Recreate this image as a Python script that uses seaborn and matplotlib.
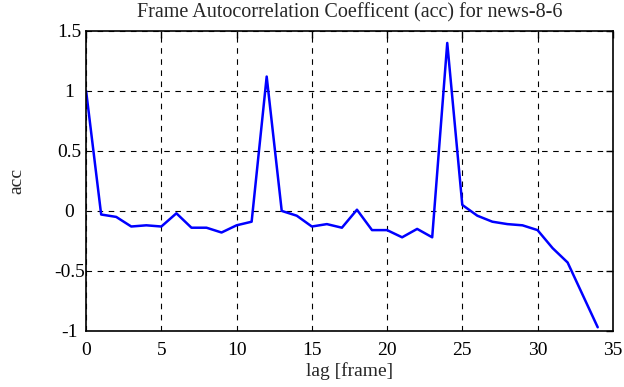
import matplotlib
matplotlib.use("Agg")
import matplotlib.pyplot as plt
import seaborn as sns
import pandas as pd

lags = list(range(35))
acc = [1.0, -0.03, -0.05, -0.13, -0.12, -0.13, -0.02, -0.14, -0.14, -0.18,
       -0.12, -0.09, 1.12, 0.0, -0.04, -0.13, -0.11, -0.14, 0.01, -0.16,
       -0.16, -0.22, -0.15, -0.22, 1.4, 0.05, -0.04, -0.09, -0.11, -0.12,
       -0.16, -0.31, -0.43, -0.70, -0.97]
xticks = [0, 5, 10, 15, 20, 25, 30, 35]
yticks = [-1, -0.5, 0, 0.5, 1, 1.5]
ytick_labels = ["-1", "-0.5", "0", "0.5", "1", "1.5"]

df = pd.DataFrame({"lag": lags, "acc": acc})

sns.set_style("white")
plt.rcParams["font.family"] = ["Liberation Serif", "DejaVu Serif"]

fig = plt.figure(figsize=(6.24, 3.87), dpi=100)
ax = fig.add_axes([0.138, 0.145, 0.844, 0.775])
sns.lineplot(data=df, x="lag", y="acc", ax=ax, color="#0000ff", linewidth=1.8)
ax.set_xlim(0, 35)
ax.set_ylim(-1, 1.5)
ax.set_xticks(xticks)
ax.set_yticks(yticks)
ax.set_yticklabels(ytick_labels)
ax.grid(True, color="black", linestyle=(0, (5, 5)), linewidth=0.8)
ax.tick_params(direction="in", top=True, right=True, length=5, width=1,
               labelsize=14, colors="black")
ax.tick_params(axis="x", pad=8)
ax.tick_params(axis="y", pad=12)
for lab in ax.get_yticklabels():
    lab.set_horizontalalignment("center")
for s in ax.spines.values():
    s.set_color("black")
    s.set_linewidth(1.2)
ax.set_xlabel("lag [frame]", fontsize=14, labelpad=2)
ax.set_ylabel("acc", fontsize=14, labelpad=21)
ax.set_title("Frame Autocorrelation Coefficent (acc) for news-8-6", fontsize=14.5, pad=10)
fig.savefig("out.png", dpi=100)
